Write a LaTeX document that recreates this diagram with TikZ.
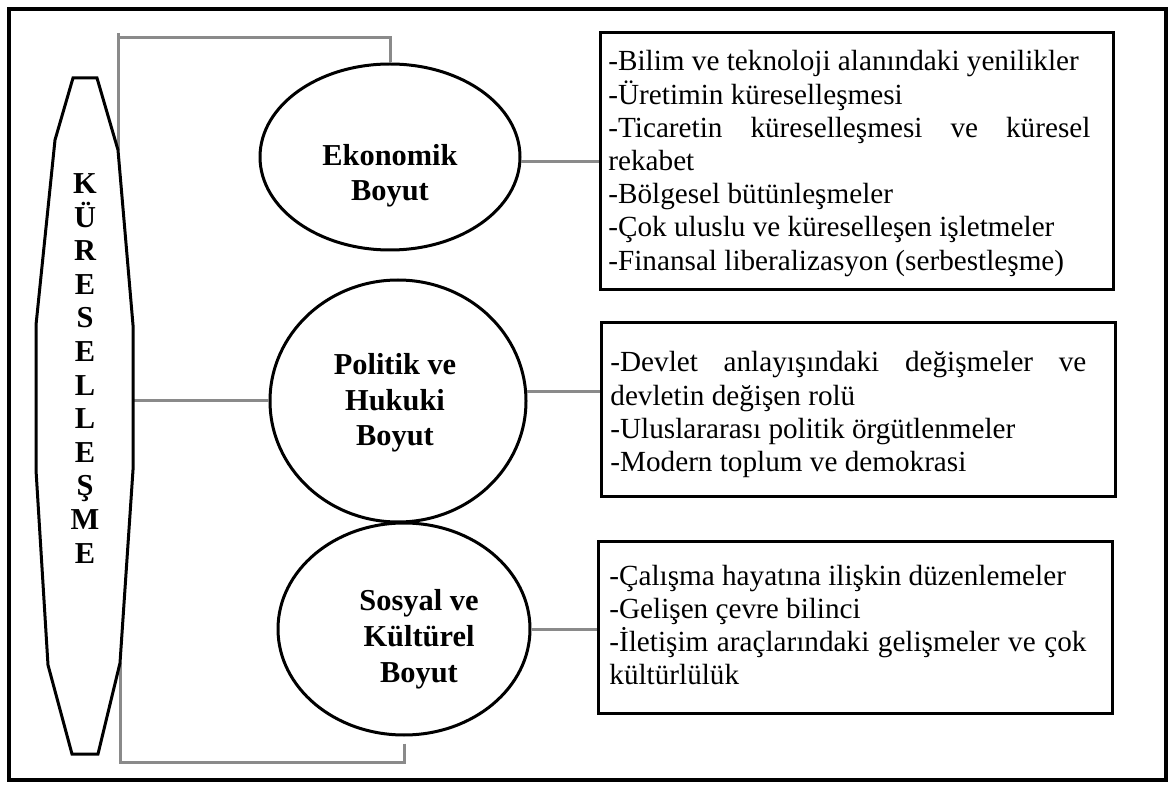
\documentclass[tikz,border=0pt]{standalone}
\usepackage{fontspec}
\setmainfont{Liberation Serif}
\usetikzlibrary{shapes.geometric}
\definecolor{linkgray}{RGB}{138,138,138}

\begin{document}
\begin{tikzpicture}[x=0.5pt,y=-0.5pt,
  frame/.style={draw=black,line width=1.75pt},
  outline/.style={draw=black,line width=1.5pt,line join=miter},
  dimension/.style={draw=black,line width=1.5pt,ellipse,inner sep=0pt},
  panel/.style={draw=black,line width=1.5pt,rectangle,inner sep=0pt},
  link/.style={draw=linkgray,line width=1.5pt},
  heading/.style={font=\fontsize{15.2pt}{17.8pt}\selectfont\bfseries,align=center,inner sep=0pt,anchor=base},
  listing/.style={font=\fontsize{14.6pt}{16.6pt}\selectfont,align=justify,inner sep=0pt,anchor=base west}
]
\useasboundingbox (0,0) rectangle (1174,786);

% outer frame
\draw[frame] (9,9) rectangle (1166,780);

% long octagon holding the vertical word
\coordinate (k1) at (73,78);
\coordinate (k2) at (97,78);
\coordinate (k3) at (118,150);
\coordinate (k4) at (133,325);
\coordinate (k5) at (133,470);
\coordinate (k6) at (120,663);
\coordinate (k7) at (98,754);
\coordinate (k8) at (72,754);
\coordinate (k9) at (48,665);
\coordinate (k10) at (36,470);
\coordinate (k11) at (36,325);
\coordinate (k12) at (55,140);

% the three dimensions
\node[dimension,minimum width=130pt,minimum height=93pt] (eko) at (390,157) {};
\node[dimension,minimum width=128pt,minimum height=121pt] (pol) at (398,401) {};
\node[dimension,minimum width=126pt,minimum height=106pt] (sos) at (404,629) {};

% content panels
\node[panel,minimum width=256.5pt,minimum height=128.5pt] (box1) at (856.5,161.5) {};
\node[panel,minimum width=257pt,minimum height=87pt] (box2) at (858,410) {};
\node[panel,minimum width=257pt,minimum height=86pt] (box3) at (855,627) {};

% gray connectors
\coordinate (tb) at (118,38);
\draw[link] (eko.north) |- (tb);
\draw[link] ([yshift=2.5pt]tb) -- (k3);
\draw[link] (pol.west) -- (pol.west -| k4);
\draw[link] (k6) |- ([yshift=-13pt]sos.south);
\draw[link] ([yshift=-3.5pt]sos.south) -- ([yshift=-13.5pt]sos.south);
\draw[link] (eko.-2) -- (eko.-2 -| box1.west);
\draw[link] (pol.4) -- (pol.4 -| box2.west);
\draw[link] (sos.-0.5) -- (sos.-0.5 -| box3.west);

\draw[outline] (k1) -- (k2) -- (k3) -- (k4) -- (k5) -- (k6) -- (k7) -- (k8)
  -- (k9) -- (k10) -- (k11) -- (k12) -- cycle;

% vertical word (anchored at the baseline of its last letter)
\node[font=\fontsize{15.2pt}{16.8pt}\selectfont\bfseries,align=center,inner sep=0pt,anchor=base]
  (word) at (85,563) {K\\Ü\\R\\E\\S\\E\\L\\L\\E\\Ş\\M\\E};

% dimension titles (anchored at the baseline of the last line)
\node[heading] (ekoT) at (390,201) {Ekonomik\\Boyut};
\node[heading] (polT) at (395,446) {Politik ve\\Hukuki\\Boyut};
\node[heading] (sosT) at (419,682) {Sosyal ve\\Kültürel\\Boyut};

% panel texts
\node[listing,text width=241pt] (txt1) at (608,71) {\hyphenpenalty=10000\exhyphenpenalty=10000\tolerance=10000
-Bilim ve teknoloji alanındaki yenilikler\par
-Üretimin küreselleşmesi\par
-Ticaretin küreselleşmesi ve küresel\linebreak rekabet\par
-Bölgesel bütünleşmeler\par
-Çok uluslu ve küreselleşen işletmeler\par
-Finansal liberalizasyon (serbestleşme)};

\node[listing,text width=238pt] (txt2) at (610,372) {\hyphenpenalty=10000\exhyphenpenalty=10000\tolerance=10000
-Devlet anlayışındaki değişmeler ve\linebreak devletin değişen rolü\par
-Uluslararası politik örgütlenmeler\par
-Modern toplum ve demokrasi};

\node[listing,text width=238.5pt] (txt3) at (609,585) {\hyphenpenalty=10000\exhyphenpenalty=10000\tolerance=10000
-Çalışma hayatına ilişkin düzenlemeler\par
-Gelişen çevre bilinci\par
-İletişim araçlarındaki gelişmeler ve çok\linebreak kültürlülük};
\end{tikzpicture}
\end{document}
